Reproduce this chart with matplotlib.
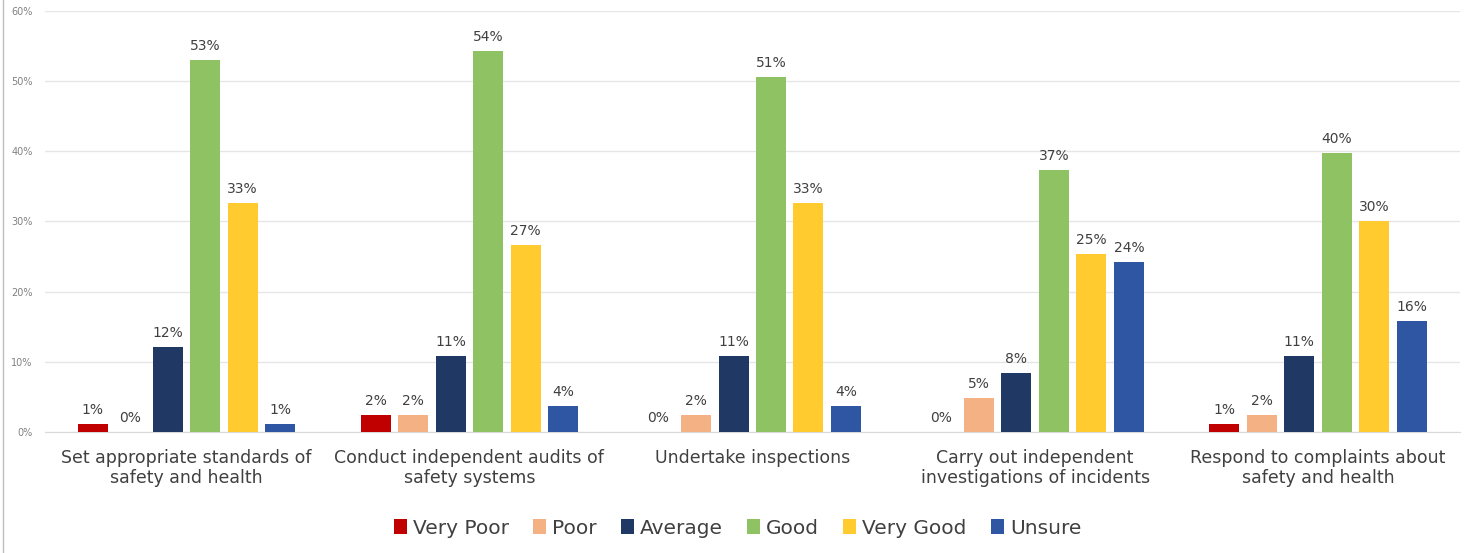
import numpy as np
import matplotlib.pyplot as plt
from matplotlib.ticker import PercentFormatter

categories = ["Set appropriate standards of\nsafety and health",
              "Conduct independent audits of\nsafety systems",
              "Undertake inspections",
              "Carry out independent\ninvestigations of incidents",
              "Respond to complaints about\nsafety and health"]

ratings = ["Very Poor", "Poor", "Average", "Good", "Very Good", "Unsure"]

very_poor = [1.1, 2.4, 0.0, 0.0, 1.1]
poor = [0.0, 2.4, 2.4, 4.8, 2.4]
average = [12.1, 10.8, 10.8, 8.4, 10.8]
good = [53.0, 54.3, 50.6, 37.3, 39.7]
very_good = [32.6, 26.6, 32.6, 25.4, 30.1]
unsure = [1.1, 3.7, 3.7, 24.2, 15.8]

colors = ["#C00000", "#F4B183", "#203864", "#8FC263", "#FFCB2F", "#2F56A3"]

if __name__ == "__main__":
    series = [very_poor, poor, average, good, very_good, unsure]

    fig = plt.figure(figsize=(14.75, 5.53), dpi=100)
    ax = fig.add_axes([0.0305, 0.219, 0.959, 0.761])

    x = np.arange(len(categories))
    step = 0.1325
    width = 0.106
    for i, (name, values) in enumerate(zip(ratings, series)):
        pos = x + (i - 2.5) * step
        bars = ax.bar(pos, values, width, color=colors[i], label=name, zorder=3)
        for b, v in zip(bars, values):
            ax.text(b.get_x() + b.get_width() / 2, v + 1.0, "{0:.0f}%".format(v),
                    ha="center", va="bottom", fontsize=10, color="#404040")

    ax.set_ylim(0, 60)
    ax.set_xlim(-0.5, len(categories) - 0.5)
    ax.set_yticks(np.arange(0, 61, 10))
    ax.yaxis.set_major_formatter(PercentFormatter(decimals=0))
    ax.tick_params(axis="y", length=0, labelsize=7, labelcolor="#808080", pad=9)
    ax.grid(axis="y", color="#E6E6E6", linewidth=1, zorder=0)

    ax.set_xticks(x)
    ax.set_xticklabels(categories, fontsize=12.5, color="#404040")
    ax.tick_params(axis="x", length=0, pad=12)

    for side in ["top", "right", "left"]:
        ax.spines[side].set_visible(False)
    ax.spines["bottom"].set_color("#D9D9D9")

    fig.legend(loc="center", bbox_to_anchor=(0.5, 0.045), ncol=6, frameon=False,
               fontsize=14.5, handlelength=0.65, handleheight=0.75, handletextpad=0.3,
               columnspacing=1.2, labelcolor="#404040")

    # faint page border on the left
    fig.add_artist(plt.Line2D([0.002, 0.002], [0, 1], color="#BFBFBF", linewidth=1))

    fig.savefig("out.png", dpi=100)
